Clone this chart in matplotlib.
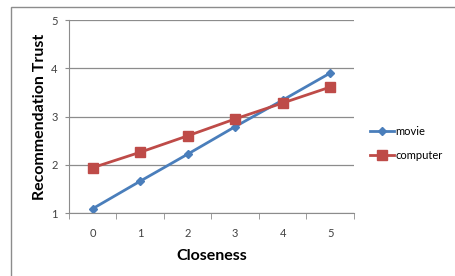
import numpy as np
import matplotlib
matplotlib.use('Agg')
import matplotlib.pyplot as plt
from matplotlib.patches import Rectangle

plt.rcParams['font.family'] = ['Lato', 'DejaVu Sans']

closeness = [0, 1, 2, 3, 4, 5]
movie = [1.09, 1.66, 2.22, 2.79, 3.34, 3.90]
computer = [1.94, 2.26, 2.60, 2.95, 3.28, 3.61]

fig = plt.figure(figsize=(4.56, 2.76), dpi=100)
ax = fig.add_axes([0.151, 0.228, 0.625, 0.6995])

# outer chart frame
fig.patches.append(Rectangle((11 / 456, -0.1), 1.2, 1 - 7 / 276 + 0.1,
                             transform=fig.transFigure, fill=False,
                             edgecolor='#8c8c8c', linewidth=1.0))

x = np.arange(len(closeness))
ax.plot(x, movie, '-D', color='#4a7ebb', linewidth=2, markersize=4.5, label='movie')
ax.plot(x, computer, '-s', color='#be4b48', linewidth=2, markersize=7, label='computer')

ax.set_xlim(-0.5, 5.5)
ax.set_ylim(1, 5)
ax.set_xticks(x)
ax.set_xticklabels([str(c) for c in closeness])
ax.set_xticks(np.arange(-0.5, 6, 1), minor=True)
ax.set_yticks([1, 2, 3, 4, 5])
ax.tick_params(axis='x', which='major', length=0, pad=11, labelsize=8, colors='#404040')
ax.tick_params(axis='x', which='minor', length=4, color='#8c8c8c')
ax.tick_params(axis='y', length=3, color='#8c8c8c', labelsize=8, colors='#404040', pad=5)
ax.grid(axis='y', color='#8c8c8c', linewidth=0.9)
ax.set_axisbelow(True)

for s in ['top', 'right']:
    ax.spines[s].set_visible(False)
for s in ['left', 'bottom']:
    ax.spines[s].set_color('#8c8c8c')

ax.set_xlabel('Closeness', fontsize=11.5, fontweight='bold', labelpad=7)
ax.set_ylabel('Recommendation Trust', fontsize=11.5, fontweight='bold', labelpad=3)

ax.legend(loc='center left', bbox_to_anchor=(1.02, 0.36), frameon=False,
          fontsize=8, handlelength=2.2, handletextpad=0.1, labelspacing=1.2)

fig.savefig('out.png', dpi=100)
